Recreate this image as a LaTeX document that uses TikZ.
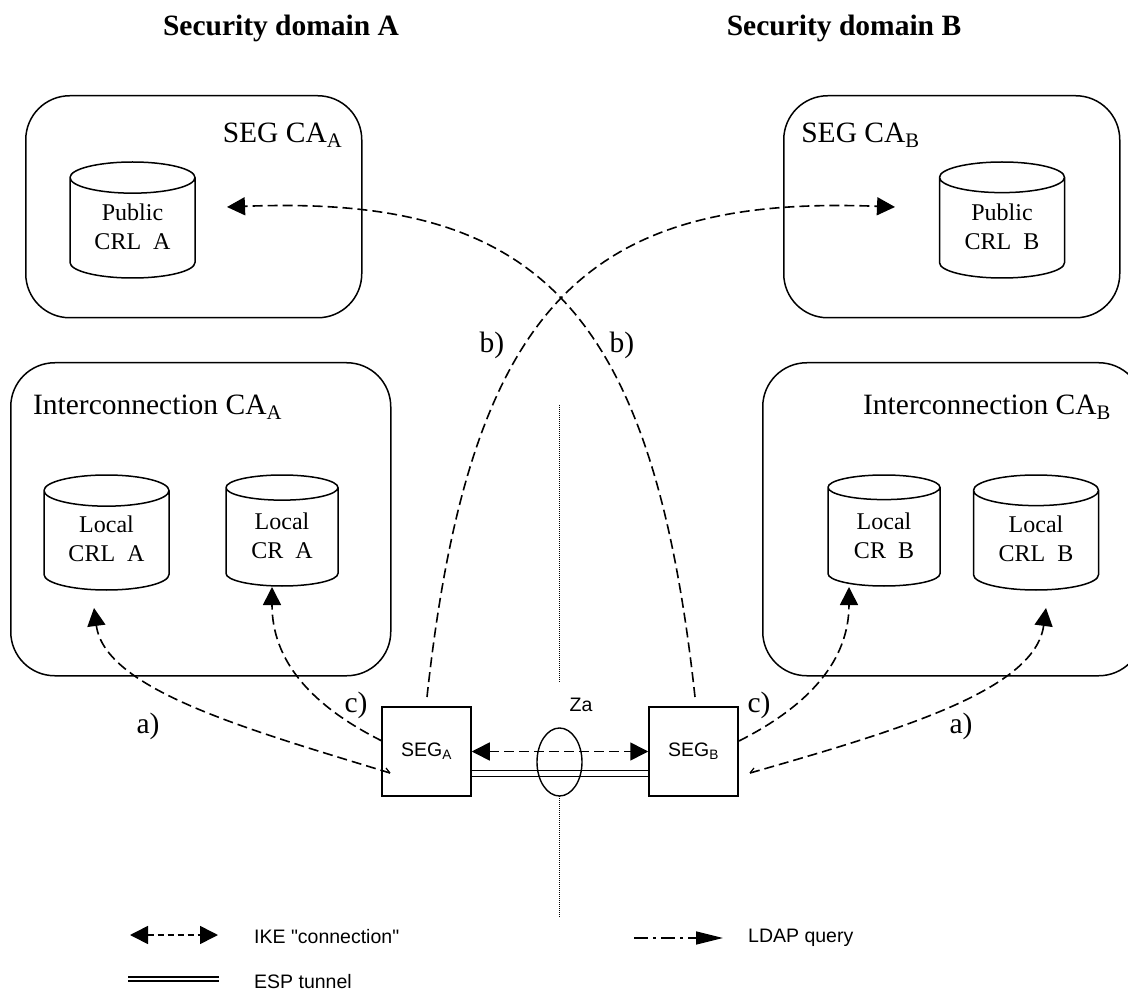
\documentclass[tikz,border=0pt]{standalone}
\usepackage{fontspec}
\setmainfont{Liberation Serif}
\newfontfamily\helv{Liberation Sans}
\usetikzlibrary{shapes.geometric,arrows.meta}
\tikzset{
  x=1pt,y=1pt,
  cabox/.style={draw,line width=1.5pt,rounded corners=44pt,anchor=north west,inner sep=0pt},
  db/.style={draw,line width=1.5pt,cylinder,anchor=shape center,shape border rotate=90,shape aspect=0.41,inner sep=0pt,align=center,font=\fontsize{24}{29}\selectfont},
  segbox/.style={draw,line width=1.5pt,minimum width=89pt,minimum height=89pt,inner sep=0pt,font=\helv\fontsize{19.5}{22}\selectfont},
  lbl/.style={font=\fontsize{29.5}{34}\selectfont,inner sep=0pt},
  ttl/.style={font=\bfseries\fontsize{29.5}{34}\selectfont,inner sep=0pt},
  leg/.style={font=\helv\fontsize{19.5}{22}\selectfont,anchor=west,inner sep=0pt},
  dashline/.style={line width=1.6pt,dash pattern=on 10pt off 5pt},
  onetip/.style={-{Triangle[length=18pt,width=18pt]}},
  twotips/.style={{Triangle[length=18pt,width=18pt]}-{Triangle[length=18pt,width=18pt]}}
}
\newcommand{\sbs}[1]{\textsubscript{#1}}
\newcommand{\lift}{\\[-25.5pt]\mbox{}}
\begin{document}
\begin{tikzpicture}
\useasboundingbox (0,0) rectangle (1128,-992);
\node[ttl] (ta) at (281,-28) {Security domain A};
\node[ttl] (tb) at (844,-28) {Security domain B};
% CA boxes
\node[cabox,minimum width=336pt,minimum height=222pt] (sa) at (25,-95) {};
\node[cabox,minimum width=336pt,minimum height=222pt] (sb) at (783,-95) {};
\node[cabox,minimum width=380pt,minimum height=313pt] (ia) at (10,-362) {};
\node[cabox,minimum width=380pt,minimum height=313pt] (ib) at (762,-362) {};
\node[lbl] (lsa) at (282.5,-135.5) {SEG CA\sbs{A}};
\node[lbl] (lsb) at (860.5,-135.5) {SEG CA\sbs{B}};
\node[lbl] (lia) at (157.5,-407) {Interconnection CA\sbs{A}};
\node[lbl] (lib) at (987,-407) {Interconnection CA\sbs{B}};
% databases
\node[db,minimum width=125pt,minimum height=116pt] (pa) at (132.5,-220) {Public\\CRL\ \ A\lift};
\node[db,minimum width=125pt,minimum height=116pt] (pb) at (1002,-220) {Public\\CRL\ \ B\lift};
\node[db,minimum width=125pt,minimum height=115pt] (la) at (106.5,-532.5) {Local\\CRL\ \ A\lift};
\node[db,minimum width=112pt,minimum height=111pt] (ra) at (282,-530.5) {Local\\CR\ \ A\lift};
\node[db,minimum width=112pt,minimum height=111pt] (rb) at (884,-530.5) {Local\\CR\ \ B\lift};
\node[db,minimum width=125pt,minimum height=115pt] (lb) at (1036,-532.5) {Local\\CRL\ \ B\lift};
% SEGs
\node[segbox] (a) at (426.5,-751.5) {SEG\sbs{A}};
\node[segbox] (b) at (693.5,-751.5) {SEG\sbs{B}};
% zone
\coordinate (z1) at (559,-405);
\coordinate (z2) at (559,-682);
\coordinate (z3) at (559,-796);
\coordinate (z4) at (559,-917);
\draw[line width=1pt,densely dotted] (z1)--(z2) (z3)--(z4);
\node[font=\helv\fontsize{19.5}{22}\selectfont,inner sep=0pt] (za) at (581,-705) {Za};
% tunnel
\draw[line width=1.8pt] ([yshift=-19pt]a.east) -- ([yshift=-19pt]b.west);
\draw[line width=1.8pt] ([yshift=-25pt]a.east) -- ([yshift=-25pt]b.west);
\node[draw,ellipse,line width=1.4pt,minimum width=45pt,minimum height=68pt,inner sep=0pt] (el) at (559.5,-762) {};
\draw[dashline,twotips] (a.east) -- (b.west);
% curves
\coordinate (ba) at (427,-697);
\coordinate (bb) at (695,-697);
\coordinate (ea) at (227,-207);
\coordinate (eb) at (895,-207);
\draw[dashline,onetip] (ba) .. controls (470,-300) and (590,-195) .. (eb);
\draw[dashline,onetip] (bb) .. controls (652,-300) and (532,-195) .. (ea);
\coordinate (c1) at (382,-741);
\coordinate (c2) at (390,-773);
\coordinate (h2) at (386,-768);
\coordinate (c3) at (739,-741);
\coordinate (c4) at (750,-773);
\coordinate (h4) at (754,-768);
\coordinate (e1) at (94,-608);
\coordinate (e2) at (272,-587);
\coordinate (e3) at (849,-587);
\coordinate (e4) at (1046,-608);
\draw[dashline,onetip] (c1) .. controls (310,-705) and (272,-660) .. (e2);
\draw[dashline,onetip] (c2) .. controls (250,-730) and (105,-690) .. (e1);
\draw[dashline,onetip] (c3) .. controls (810,-705) and (849,-660) .. (e3);
\draw[dashline,onetip] (c4) .. controls (900,-730) and (1035,-690) .. (e4);
\draw[line width=1.2pt] (c2) -- (h2);
\draw[line width=1.2pt] (c4) -- (h4);
% labels
\node[lbl] (lb1) at (492,-345) {b)};
\node[lbl] (lb2) at (622,-345) {b)};
\node[lbl] (la1) at (148,-726) {a)};
\node[lbl] (la2) at (961,-726) {a)};
\node[lbl] (lc1) at (356,-705) {c)};
\node[lbl] (lc2) at (759,-705) {c)};
% legend
\coordinate (k1) at (130,-935);
\coordinate (k2) at (218,-935);
\draw[line width=1.6pt,dash pattern=on 6pt off 4pt,twotips] (k1) -- (k2);
\node[leg] (ikel) at (254,-937) {IKE "connection"};
\coordinate (k4) at (128,-979);
\coordinate (k5) at (219,-979);
\draw[line width=1.8pt] ([yshift=2.2pt]k4) -- ([yshift=2.2pt]k5);
\draw[line width=1.8pt] ([yshift=-2.2pt]k4) -- ([yshift=-2.2pt]k5);
\node[leg] (espl) at (254,-982) {ESP tunnel};
\coordinate (k6) at (634,-938);
\coordinate (k7) at (723,-938);
\draw[line width=1.4pt,dash pattern=on 14pt off 5pt on 3pt off 5pt,-{Triangle[length=27pt,width=13pt]}] (k6) -- (k7);
\node[leg] (ldl) at (748,-938) {LDAP query};
\end{tikzpicture}
\end{document}
